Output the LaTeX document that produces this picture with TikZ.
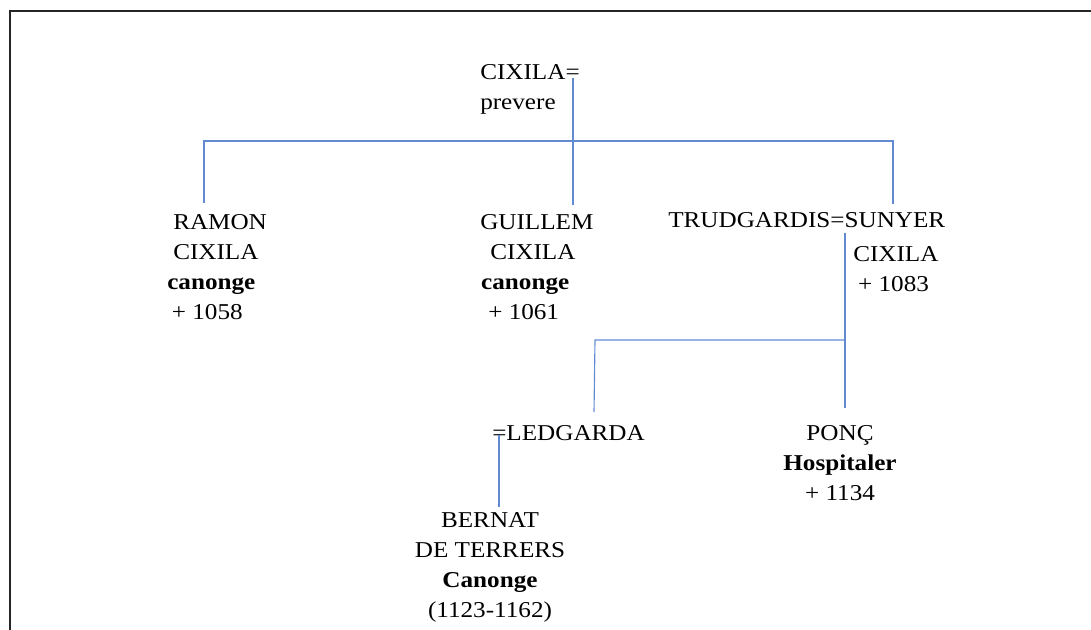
\documentclass[tikz,border=0pt]{standalone}
\usepackage{fontspec}
\setmainfont{Liberation Serif}[FakeStretch=1.11]

\definecolor{linkblue}{RGB}{98,138,210}

\begin{document}
\begin{tikzpicture}[
    x=0.75pt, y=-0.75pt, % work in pixel-like units, y going down
    % base anchor sits on the last line of each entry
    person/.style={inner sep=0pt, align=left, anchor=base west,
        font=\fontsize{17}{22.5}\selectfont},
    personc/.style={person, align=center, anchor=base},
    link/.style={draw=linkblue, line width=0.85pt},   % family tree lines
    frame/.style={draw=black!85, line width=1.5pt}    % page border
]
    \useasboundingbox (0,0) rectangle (1091,630);

    % Border (only top and left edges show)
    \draw[frame] (9.5,630) -- (9.5,11) -- (1091,11);

    % --- People ---
    \node[person] (cixila) at (480,110) {CIXILA=\\prevere};
    \node[person] (ramon) at (167,320)
        {\hspace{4.5pt}RAMON\\\hspace{4.5pt}CIXILA\\\textbf{canonge}\\\hspace{3.5pt}+ 1058};
    \node[person] (guillem) at (480,320)
        {GUILLEM\\\hspace{7.5pt}CIXILA\\\hspace{0.7pt}\textbf{canonge}\\\hspace{6pt}+ 1061};
    \node[person] (sunyer) at (668,228) {TRUDGARDIS=SUNYER};
    \node[person] (sunyerinfo) at (853,292) {CIXILA\\\hspace{3.7pt}+ 1083};
    \node[person] (ledgarda) at (492,440) {=LEDGARDA};
    \node[personc] (ponc) at (840,500) {PONÇ\\\textbf{Hospitaler}\\+ 1134};
    \node[personc] (bernat) at (490,617)
        {BERNAT\\DE TERRERS\\\textbf{Canonge}\\(1123-1162)};

    % --- Tree coordinates ---
    \coordinate (cixila-tap)   at (573,78);
    \coordinate (guillem-tap)  at (573,205);
    \coordinate (sib-left)     at (204,141);
    \coordinate (sib-right)    at (893,141);
    \coordinate (ramon-tap)    at (204,203);
    \coordinate (sunyer-tap)   at (893,204);
    \coordinate (sunyer-drop)  at (845,233);
    \coordinate (ponc-tap)     at (845,408);
    \coordinate (kid-left)     at (595,340);
    \coordinate (kid-right)    at (845,340);
    \coordinate (ledgarda-tap) at (594,412);
    \coordinate (ledgarda-drop) at (499,435);
    \coordinate (bernat-tap)   at (499,507);

    % --- Links ---
    \draw[link] (cixila-tap) -- (guillem-tap);
    \draw[link] (ramon-tap) -- (sib-left) -- (sib-right) -- (sunyer-tap);
    \draw[link] (sunyer-drop) -- (ponc-tap);
    \draw[link] (ledgarda-tap) -- (kid-left) -- (kid-right);
    \draw[link] (ledgarda-drop) -- (bernat-tap);

\end{tikzpicture}
\end{document}
